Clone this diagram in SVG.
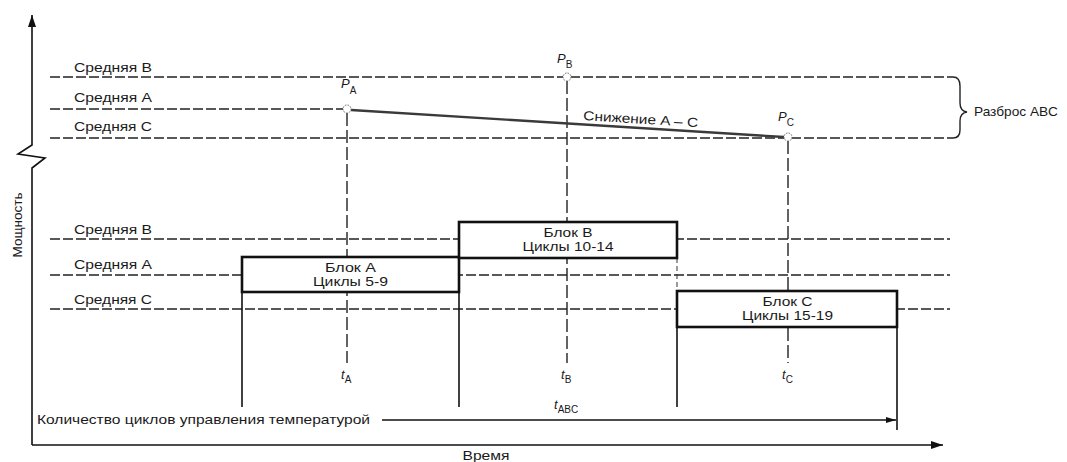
<svg xmlns="http://www.w3.org/2000/svg" width="1067" height="462" viewBox="0 0 1067 462">
<style>
text{font-family:"Liberation Sans",Arial,sans-serif;fill:#1a1a1a;font-size:13px}
.dash{stroke:#222;stroke-width:1.5;stroke-dasharray:10,3;fill:none}
.vdash{stroke:#222;stroke-width:1.4;stroke-dasharray:13,4;fill:none}
.solid{stroke:#111;stroke-width:1.6;fill:none}
.block rect{fill:#fff;stroke:#111;stroke-width:2.6}
.pt{fill:#fff;stroke:#666;stroke-width:1;stroke-dasharray:1.5,1.2}
.it{font-style:italic}
.sub{font-size:10px}
</style>
<defs>
<marker id="ah" markerWidth="12" markerHeight="8" refX="12" refY="4" orient="auto" markerUnits="userSpaceOnUse">
<path d="M0,0 L12,4 L0,8 Z" fill="#111"/>
</marker>
<marker id="ahs" markerWidth="10" markerHeight="6" refX="10" refY="3" orient="auto" markerUnits="userSpaceOnUse">
<path d="M0,0 L10,3 L0,6 Z" fill="#111"/>
</marker>
</defs>

<g id="axes">
<polyline class="solid" points="32,445 32,168 45,158 18,154 32,145 32,15" marker-end="url(#ah)"/>
<line class="solid" x1="32" y1="445" x2="943" y2="445" marker-end="url(#ah)"/>
<text transform="translate(22,225) rotate(-90)" text-anchor="middle" textLength="65" lengthAdjust="spacingAndGlyphs">Мощность</text>
<text x="486" y="460" text-anchor="middle" textLength="47" lengthAdjust="spacingAndGlyphs">Время</text>
</g>

<g id="connectors">
<line class="dash" x1="50" y1="77" x2="953" y2="77"/>
<line class="dash" x1="50" y1="109" x2="343" y2="109"/>
<line class="dash" x1="50" y1="138" x2="953" y2="138"/>
<line class="dash" x1="50" y1="239" x2="950" y2="239"/>
<line class="dash" x1="50" y1="275" x2="950" y2="275"/>
<line class="dash" x1="50" y1="309" x2="950" y2="309"/>
<line class="vdash" x1="347" y1="113" x2="347" y2="363"/>
<line class="vdash" x1="567" y1="81" x2="567" y2="363"/>
<line class="vdash" x1="788" y1="141" x2="788" y2="363"/>
<line x1="351" y1="110" x2="784" y2="137" stroke="#3a3a3a" stroke-width="2.4"/>
<line class="solid" x1="242" y1="292" x2="242" y2="407"/>
<line class="solid" x1="459" y1="258" x2="459" y2="407"/>
<line class="solid" x1="677" y1="327" x2="677" y2="407"/>
<line x1="677" y1="258" x2="677" y2="291" stroke="#333" stroke-width="1" stroke-dasharray="5,3"/>
<line class="solid" x1="897" y1="327" x2="897" y2="430"/>
<line class="solid" x1="382" y1="420" x2="896" y2="420" marker-end="url(#ahs)"/>
<path d="M953,77 Q960,77 960,86 L960,103 Q960,111 967,112 Q960,113 960,121 L960,130 Q960,138 953,138" fill="none" stroke="#222" stroke-width="1.4"/>
</g>

<g id="points">
<circle class="pt" cx="347" cy="109" r="4"/>
<circle class="pt" cx="567" cy="77" r="4"/>
<circle class="pt" cx="788" cy="137" r="4"/>
<text x="341" y="88"><tspan class="it">P</tspan><tspan class="sub" dy="6">A</tspan></text>
<text x="557" y="63"><tspan class="it">P</tspan><tspan class="sub" dy="5">B</tspan></text>
<text x="778" y="121"><tspan class="it">P</tspan><tspan class="sub" dy="5">C</tspan></text>
<text x="341" y="379"><tspan class="it">t</tspan><tspan class="sub" dy="4">A</tspan></text>
<text x="561" y="379"><tspan class="it">t</tspan><tspan class="sub" dy="4">B</tspan></text>
<text x="782" y="379"><tspan class="it">t</tspan><tspan class="sub" dy="4">C</tspan></text>
<text x="554" y="409"><tspan class="it">t</tspan><tspan class="sub" dy="4">ABC</tspan></text>
</g>

<g id="labels">
<text x="74" y="72" textLength="78" lengthAdjust="spacingAndGlyphs">Средняя B</text>
<text x="74" y="102" textLength="78" lengthAdjust="spacingAndGlyphs">Средняя A</text>
<text x="74" y="131" textLength="78" lengthAdjust="spacingAndGlyphs">Средняя C</text>
<text x="74" y="234" textLength="78" lengthAdjust="spacingAndGlyphs">Средняя B</text>
<text x="74" y="269" textLength="78" lengthAdjust="spacingAndGlyphs">Средняя A</text>
<text x="74" y="304" textLength="78" lengthAdjust="spacingAndGlyphs">Средняя C</text>
<text transform="translate(583,120) rotate(3.6)" textLength="115" lengthAdjust="spacingAndGlyphs">Снижение A – C</text>
<text x="974" y="116" textLength="84" lengthAdjust="spacingAndGlyphs">Разброс ABC</text>
<text x="37" y="424" textLength="333" lengthAdjust="spacingAndGlyphs">Количество циклов управления температурой</text>
</g>

<g id="blockA" class="block">
<rect x="242" y="257" width="217" height="35"/>
<text x="350.5" y="272" text-anchor="middle" textLength="51" lengthAdjust="spacingAndGlyphs">Блок A</text>
<text x="350.5" y="286" text-anchor="middle" textLength="75" lengthAdjust="spacingAndGlyphs">Циклы 5-9</text>
</g>
<g id="blockB" class="block">
<rect x="459" y="222" width="218" height="36"/>
<text x="568" y="237" text-anchor="middle" textLength="49" lengthAdjust="spacingAndGlyphs">Блок B</text>
<text x="568" y="251" text-anchor="middle" textLength="91" lengthAdjust="spacingAndGlyphs">Циклы 10-14</text>
</g>
<g id="blockC" class="block">
<rect x="677" y="291" width="220" height="36"/>
<text x="787.5" y="306" text-anchor="middle" textLength="50" lengthAdjust="spacingAndGlyphs">Блок C</text>
<text x="787.5" y="320" text-anchor="middle" textLength="91" lengthAdjust="spacingAndGlyphs">Циклы 15-19</text>
</g>
</svg>
